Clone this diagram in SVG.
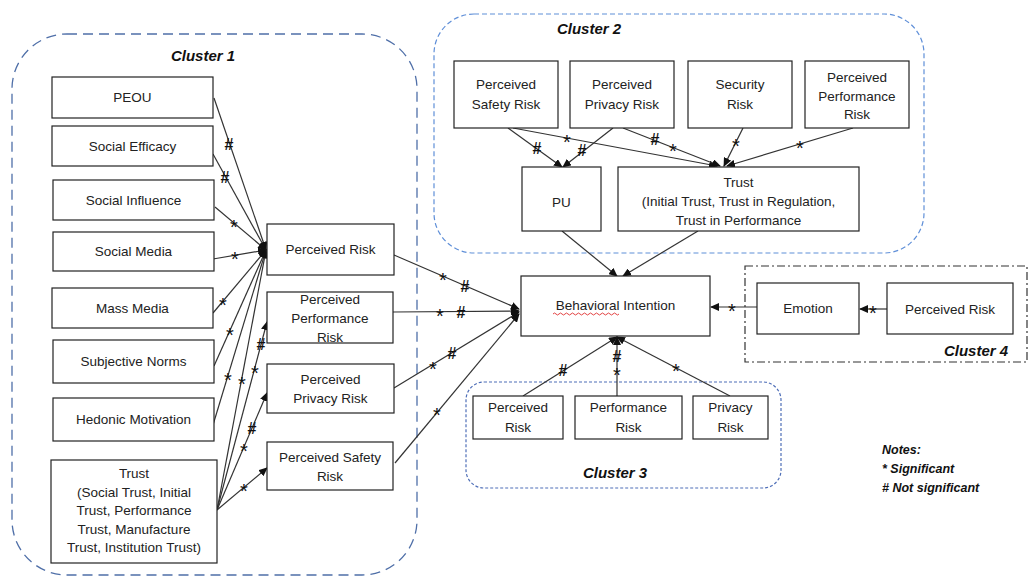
<svg xmlns="http://www.w3.org/2000/svg" width="1035" height="577" viewBox="0 0 1035 577">
<style>
.bx{fill:#fff;stroke:#222;stroke-width:1.2}
.t{font-family:"Liberation Sans",Arial,sans-serif;font-size:13.5px;fill:#222;text-anchor:middle}
.ttl{font-family:"Liberation Sans",Arial,sans-serif;font-size:15px;font-weight:bold;font-style:italic;fill:#111;text-anchor:middle}
.note{font-family:"Liberation Sans",Arial,sans-serif;font-size:12.5px;font-weight:bold;font-style:italic;fill:#111}
.c1{fill:none;stroke:#4f6fa8;stroke-width:1.3;stroke-dasharray:10 6}
.c2{fill:none;stroke:#5f8fd8;stroke-width:1.2;stroke-dasharray:5 3}
.c3{fill:none;stroke:#4f6fb8;stroke-width:1.2;stroke-dasharray:3 2}
.c4{fill:none;stroke:#333;stroke-width:1.2;stroke-dasharray:8 3 2 3}
.ln{fill:none;stroke:#333;stroke-width:1.2;marker-end:url(#ah)}
.mk{font-family:"Liberation Sans",Arial,sans-serif;fill:#111;text-anchor:middle}
.hs{font-size:16px;font-weight:bold}
.as{font-size:20px}
</style>
<defs>
<marker id="ah" markerUnits="userSpaceOnUse" markerWidth="9" markerHeight="8" refX="8" refY="4" orient="auto">
<path d="M0,0 L9,4 L0,8 Z" fill="#111"/>
</marker>
</defs>

<g id="clusters">
<rect id="cluster1" class="c1" x="12" y="34" width="405" height="541" rx="55"/>
<rect id="cluster2" class="c2" x="434" y="14" width="490" height="239" rx="40"/>
<rect id="cluster3" class="c3" x="466" y="382" width="315" height="106" rx="18"/>
<rect id="cluster4" class="c4" x="745" y="266" width="282" height="96"/>
<text class="ttl" x="203" y="61">Cluster 1</text>
<text class="ttl" x="589" y="34">Cluster 2</text>
<text class="ttl" x="615" y="478">Cluster 3</text>
<text class="ttl" x="976" y="356">Cluster 4</text>
</g>

<g id="connectors">
<line class="ln" x1="214" y1="98" x2="266" y2="250"/>
<line class="ln" x1="213" y1="154" x2="266" y2="250"/>
<line class="ln" x1="215" y1="207" x2="266" y2="250"/>
<line class="ln" x1="213" y1="259" x2="266" y2="250"/>
<line class="ln" x1="213" y1="313" x2="266" y2="250"/>
<line class="ln" x1="214" y1="366" x2="266" y2="250"/>
<line class="ln" x1="213" y1="425" x2="266" y2="250"/>
<line class="ln" x1="217" y1="510" x2="266" y2="250"/>
<line class="ln" x1="217" y1="510" x2="267" y2="322"/>
<line class="ln" x1="217" y1="510" x2="267" y2="393"/>
<line class="ln" x1="217" y1="510" x2="267" y2="468"/>

<line class="ln" x1="394" y1="255" x2="519" y2="309"/>
<line class="ln" x1="393" y1="312" x2="519" y2="311"/>
<line class="ln" x1="394" y1="388" x2="519" y2="312"/>
<line class="ln" x1="395" y1="463" x2="519" y2="314"/>

<line class="ln" x1="508" y1="128" x2="562" y2="167"/>
<line class="ln" x1="513" y1="128" x2="717" y2="166"/>
<line class="ln" x1="613" y1="128" x2="563" y2="167"/>
<line class="ln" x1="623" y1="128" x2="720" y2="166"/>
<line class="ln" x1="743" y1="128" x2="724" y2="166"/>
<line class="ln" x1="853" y1="128" x2="727" y2="166"/>

<line class="ln" x1="562" y1="231" x2="617" y2="276"/>
<line class="ln" x1="698" y1="231" x2="623" y2="276"/>

<line class="ln" x1="523" y1="396" x2="617" y2="337"/>
<line class="ln" x1="617" y1="396" x2="617" y2="337"/>
<line class="ln" x1="730" y1="396" x2="617" y2="337"/>

<line class="ln" x1="887" y1="309" x2="860" y2="309"/>
<line class="ln" x1="757" y1="307" x2="711" y2="307"/>

<g id="marks">
<text class="mk hs" x="229" y="150">#</text>
<text class="mk hs" x="225" y="183">#</text>
<text class="mk as" x="234" y="234">*</text>
<text class="mk as" x="235" y="266">*</text>
<text class="mk as" x="223" y="312">*</text>
<text class="mk as" x="230" y="342">*</text>
<text class="mk as" x="228" y="387">*</text>
<text class="mk as" x="242" y="391">*</text>
<text class="mk hs" x="261" y="350">#</text>
<text class="mk as" x="255" y="380">*</text>
<text class="mk hs" x="252" y="434">#</text>
<text class="mk as" x="244" y="458">*</text>
<text class="mk as" x="244" y="498">*</text>

<text class="mk as" x="443" y="287">*</text>
<text class="mk hs" x="465" y="292">#</text>
<text class="mk as" x="440" y="323">*</text>
<text class="mk hs" x="461" y="318">#</text>
<text class="mk hs" x="452" y="359">#</text>
<text class="mk as" x="433" y="376">*</text>
<text class="mk as" x="437" y="422">*</text>

<text class="mk hs" x="537" y="154">#</text>
<text class="mk as" x="567" y="149">*</text>
<text class="mk hs" x="582" y="156">#</text>
<text class="mk hs" x="655" y="145">#</text>
<text class="mk as" x="673" y="158">*</text>
<text class="mk as" x="736" y="153">*</text>
<text class="mk as" x="800" y="155">*</text>

<text class="mk hs" x="563" y="376">#</text>
<text class="mk hs" x="617" y="362">#</text>
<text class="mk as" x="617" y="382">*</text>
<text class="mk as" x="676" y="378">*</text>

<text class="mk as" x="873" y="320">*</text>
<text class="mk as" x="732" y="318">*</text>
</g>
</g>

<g id="n-peou"><rect class="bx" x="52" y="77" width="161" height="41"/><text class="t" x="132.5" y="102">PEOU</text></g>
<g id="n-social-efficacy"><rect class="bx" x="52" y="126" width="161" height="40"/><text class="t" x="132.5" y="151">Social Efficacy</text></g>
<g id="n-social-influence"><rect class="bx" x="53" y="180" width="161" height="40"/><text class="t" x="133.5" y="205">Social Influence</text></g>
<g id="n-social-media"><rect class="bx" x="53" y="232" width="161" height="39"/><text class="t" x="133.5" y="256">Social Media</text></g>
<g id="n-mass-media"><rect class="bx" x="52" y="288" width="161" height="40"/><text class="t" x="132.5" y="313">Mass Media</text></g>
<g id="n-subjective-norms"><rect class="bx" x="53" y="340" width="161" height="43"/><text class="t" x="133.5" y="366">Subjective Norms</text></g>
<g id="n-hedonic"><rect class="bx" x="53" y="398" width="161" height="43"/><text class="t" x="133.5" y="424">Hedonic Motivation</text></g>
<g id="n-trust1"><rect class="bx" x="51" y="460" width="166" height="103"/>
<text class="t" x="134" y="478">Trust</text>
<text class="t" x="134" y="497">(Social Trust, Initial</text>
<text class="t" x="134" y="515">Trust, Performance</text>
<text class="t" x="134" y="534">Trust, Manufacture</text>
<text class="t" x="134" y="552">Trust, Institution Trust)</text></g>

<g id="n-pr1"><rect class="bx" x="267" y="224" width="127" height="51"/><text class="t" x="330.5" y="254">Perceived Risk</text></g>
<g id="n-ppr1"><rect class="bx" x="267" y="292" width="126" height="51"/>
<text class="t" x="330" y="304">Perceived</text><text class="t" x="330" y="323">Performance</text><text class="t" x="330" y="342">Risk</text></g>
<g id="n-pprr1"><rect class="bx" x="267" y="364" width="127" height="49"/>
<text class="t" x="330.5" y="384">Perceived</text><text class="t" x="330.5" y="403">Privacy Risk</text></g>
<g id="n-psr1"><rect class="bx" x="267" y="442" width="126" height="48"/>
<text class="t" x="330" y="462">Perceived Safety</text><text class="t" x="330" y="481">Risk</text></g>

<g id="n-psr2"><rect class="bx" x="454" y="61" width="104" height="67"/>
<text class="t" x="506" y="89">Perceived</text><text class="t" x="506" y="109">Safety Risk</text></g>
<g id="n-pprr2"><rect class="bx" x="570" y="61" width="104" height="67"/>
<text class="t" x="622" y="89">Perceived</text><text class="t" x="622" y="109">Privacy Risk</text></g>
<g id="n-security"><rect class="bx" x="688" y="61" width="104" height="67"/>
<text class="t" x="740" y="89">Security</text><text class="t" x="740" y="109">Risk</text></g>
<g id="n-ppr2"><rect class="bx" x="805" y="61" width="104" height="67"/>
<text class="t" x="857" y="82">Perceived</text><text class="t" x="857" y="101">Performance</text><text class="t" x="857" y="119">Risk</text></g>
<g id="n-pu"><rect class="bx" x="522" y="167" width="79" height="64"/><text class="t" x="561.5" y="207">PU</text></g>
<g id="n-trust2"><rect class="bx" x="618" y="167" width="241" height="64"/>
<text class="t" x="738.5" y="187">Trust</text>
<text class="t" x="738.5" y="206">(Initial Trust, Trust in Regulation,</text>
<text class="t" x="738.5" y="225">Trust in Performance</text></g>

<g id="n-bi"><rect class="bx" x="521" y="276" width="189" height="60"/>
<text class="t" x="615.5" y="310">Behavioral Intention</text>
<path d="M553,314 q1.5,-2 3,0 t3,0 t3,0 t3,0 t3,0 t3,0 t3,0 t3,0 t3,0 t3,0 t3,0 t3,0 t3,0 t3,0 t3,0 t3,0 t3,0 t3,0 t3,0 t3,0 t3,0 t3,0" fill="none" stroke="#e03030" stroke-width="0.9"/></g>

<g id="n-pr3"><rect class="bx" x="473" y="396" width="90" height="43"/>
<text class="t" x="518" y="412">Perceived</text><text class="t" x="518" y="432">Risk</text></g>
<g id="n-perf3"><rect class="bx" x="575" y="396" width="107" height="43"/>
<text class="t" x="628.5" y="412">Performance</text><text class="t" x="628.5" y="432">Risk</text></g>
<g id="n-priv3"><rect class="bx" x="693" y="396" width="75" height="43"/>
<text class="t" x="730.5" y="412">Privacy</text><text class="t" x="730.5" y="432">Risk</text></g>

<g id="n-emotion"><rect class="bx" x="757" y="283" width="102" height="51"/><text class="t" x="808" y="313">Emotion</text></g>
<g id="n-pr4"><rect class="bx" x="887" y="283" width="126" height="51"/><text class="t" x="950" y="314">Perceived Risk</text></g>

<g id="notes">
<text class="note" x="882" y="454">Notes:</text>
<text class="note" x="882" y="473">* Significant</text>
<text class="note" x="882" y="492"># Not significant</text>
</g>
</svg>
